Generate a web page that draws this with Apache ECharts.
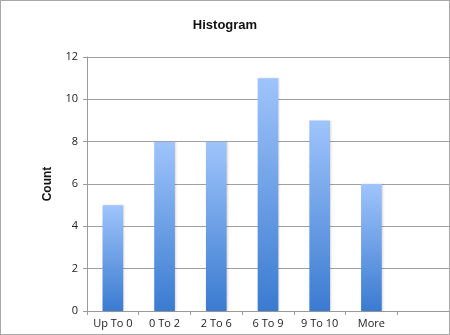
<!DOCTYPE html>
<html>
<head>
<meta charset="utf-8">
<script src="https://cdn.jsdelivr.net/npm/echarts@6/dist/echarts.min.js"></script>
<style>
html,body{margin:0;padding:0;background:#fff;}
#c{width:448px;height:333px;border:1px solid #a8a8a8;}
</style>
</head>
<body>
<div id="c"></div>
<script>
const categories = ['Up To 0', '0 To 2', '2 To 6', '6 To 9', '9 To 10', 'More', ''];
const counts = [5, 8, 8, 11, 9, 6, '-'];
const yTicks = { min: 0, max: 12, interval: 2 };

const chart = echarts.init(document.getElementById('c'));
chart.setOption({
  animation: false,
  backgroundColor: '#fff',
  title: {
    text: 'Histogram',
    left: 'center',
    top: 13,
    textStyle: { fontFamily: 'Liberation Sans', fontSize: 13, fontWeight: 'bold', color: '#111' }
  },
  grid: { left: 86, right: 0, top: 56, bottom: 23 },
  xAxis: {
    type: 'category',
    data: categories,
    boundaryGap: true,
    axisLine: { lineStyle: { color: '#9a9a9a', width: 1 } },
    axisTick: { show: true, length: 4, lineStyle: { color: '#9a9a9a' } },
    axisLabel: { fontFamily: 'Open Sans', fontSize: 11, color: '#222', margin: 7 }
  },
  yAxis: {
    type: 'value',
    min: yTicks.min, max: yTicks.max, interval: yTicks.interval,
    name: 'Count',
    nameLocation: 'middle',
    nameGap: 33,
    nameRotate: 90,
    nameTextStyle: { fontFamily: 'Liberation Sans', fontSize: 12, fontWeight: 'bold', color: '#111' },
    axisLine: { show: true, lineStyle: { color: '#9a9a9a', width: 1 } },
    axisTick: { show: true, length: 4, lineStyle: { color: '#9a9a9a' } },
    axisLabel: { fontFamily: 'Open Sans', fontSize: 11, color: '#222', margin: 9 },
    splitLine: { show: true, lineStyle: { color: '#a0a0a0', width: 1 } }
  },
  series: [{
    type: 'bar',
    data: counts,
    barWidth: '40%',
    itemStyle: {
      color: new echarts.graphic.LinearGradient(0, 0, 0, 1, [
        { offset: 0, color: '#9fc4fb' },
        { offset: 1, color: '#3a7bd0' }
      ]),
      shadowColor: 'rgba(0,0,0,0.15)',
      shadowBlur: 2,
      shadowOffsetX: 1
    }
  }]
});
</script>
</body>
</html>
